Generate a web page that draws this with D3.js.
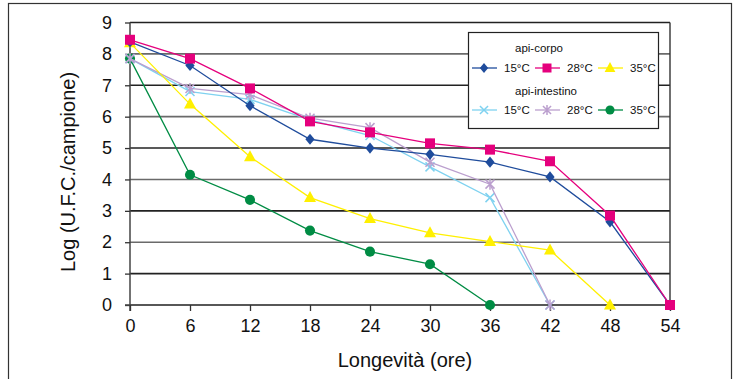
<!DOCTYPE html>
<html><head><meta charset="utf-8">
<script src="https://cdn.jsdelivr.net/npm/d3@7"></script>
<style>body{margin:0;background:#fff}svg{display:block;font-family:"Liberation Sans",Arial,sans-serif}</style>
</head><body><svg id="c" width="737" height="379"></svg>
<script>
const hours = [0, 6, 12, 18, 24, 30, 36, 42, 48, 54];
const yTicks = [0,1,2,3,4,5,6,7,8,9];
const corpo15 = [8.38, 7.63, 6.35, 5.28, 5.0, 4.8, 4.55, 4.08, 2.65, 0];
const corpo28 = [8.45, 7.85, 6.9, 5.85, 5.5, 5.15, 4.95, 4.58, 2.85, 0];
const corpo35 = [8.35, 6.4, 4.72, 3.42, 2.75, 2.3, 2.02, 1.75, 0];
const intest15 = [7.85, 6.8, 6.55, 5.9, 5.4, 4.4, 3.42, 0];
const intest28 = [7.85, 6.9, 6.7, 5.95, 5.65, 4.55, 3.85, 0];
const intest35 = [7.85, 4.15, 3.35, 2.37, 1.7, 1.3, 0];
const seriesNames = ["15°C","28°C","35°C","15°C","28°C","35°C"];
const groupNames = ["api-corpo","api-intestino"];

const series = [
  {name:seriesNames[0], vals:corpo15, color:"#1f4c9c", kind:"diamond"},
  {name:seriesNames[1], vals:corpo28, color:"#e5007d", kind:"square"},
  {name:seriesNames[2], vals:corpo35, color:"#fff000", kind:"triangle"},
  {name:seriesNames[3], vals:intest15, color:"#7fd2f0", kind:"x"},
  {name:seriesNames[4], vals:intest28, color:"#bb9fce", kind:"star"},
  {name:seriesNames[5], vals:intest35, color:"#008c44", kind:"circle"}
];

const svg = d3.select("#c");
svg.append("rect").attr("x",8.5).attr("y",3.5).attr("width",723).attr("height",400)
  .attr("fill","none").attr("stroke","#333").attr("stroke-width",1.2);

const x = d3.scaleLinear().domain([0,54]).range([130,670]);
const y = d3.scaleLinear().domain([0,9]).range([305,22.5]);

svg.append("g").selectAll("line").data(yTicks).join("line")
  .attr("x1",130).attr("x2",670).attr("y1",d=>y(d)).attr("y2",d=>y(d))
  .attr("stroke",(d,i)=> i%2? "#222":"#6a6a6a").attr("stroke-width",1.6);
svg.append("line").attr("x1",670).attr("x2",670).attr("y1",y(9)).attr("y2",y(0))
  .attr("stroke","#333").attr("stroke-width",1.4);

const yAxis = svg.append("g").attr("transform","translate(130,0)")
  .call(d3.axisLeft(y).tickValues(yTicks).tickSize(5).tickPadding(13).tickFormat(d3.format("d")));
const xAxis = svg.append("g").attr("transform",`translate(0,${y(0)})`)
  .call(d3.axisBottom(x).tickValues(hours).tickSize(6).tickPadding(8).tickFormat(d3.format("d")));
[yAxis,xAxis].forEach(a=>{
  a.select(".domain").attr("stroke","#444").attr("stroke-width",1.5);
  a.selectAll(".tick line").attr("stroke","#333").attr("stroke-width",1.3);
  a.selectAll("text").attr("font-size",18).attr("fill","#111").attr("font-family","Liberation Sans, Arial, sans-serif");
});
yAxis.select(".domain").attr("d",`M0,${y(0)+6}V${y(9)}`);
xAxis.select(".domain").attr("d",`M${130-5},0H670`);

svg.append("text").attr("transform",`translate(75,172) rotate(-90)`).attr("text-anchor","middle")
  .attr("font-size",20).attr("fill","#111").text("Log (U.F.C./campione)");
svg.append("text").attr("x",405).attr("y",367).attr("text-anchor","middle")
  .attr("font-size",20).attr("fill","#111").text("Longevità (ore)");

function drawMarker(g, s, cx, cy, sc){
  sc = sc||1;
  let p;
  if(s.kind==="x"){
    const r=4.5*sc;
    g.append("path").attr("d",`M${cx-r},${cy-r}L${cx+r},${cy+r}M${cx-r},${cy+r}L${cx+r},${cy-r}`)
      .attr("stroke",s.color).attr("stroke-width",1.5).attr("fill","none");
    return;
  } else if(s.kind==="star"){
    const r=4.5*sc;
    g.append("path").attr("d",`M${cx-r},${cy-r}L${cx+r},${cy+r}M${cx-r},${cy+r}L${cx+r},${cy-r}M${cx},${cy-r-1}L${cx},${cy+r+1}`)
      .attr("stroke",s.color).attr("stroke-width",1.5).attr("fill","none");
    return;
  } else if(s.kind==="diamond"){
    const w=4.6*sc,h=5.6*sc;
    p=`M${cx},${cy-h}L${cx+w},${cy}L${cx},${cy+h}L${cx-w},${cy}Z`;
  } else if(s.kind==="square"){
    const r=5*sc;
    p=`M${cx-r},${cy-r}h${2*r}v${2*r}h${-2*r}Z`;
  } else if(s.kind==="triangle"){
    const w=6*sc,h=11*sc;
    p=`M${cx},${cy-h*0.6}L${cx+w},${cy+h*0.4}L${cx-w},${cy+h*0.4}Z`;
  } else {
    p=d3.symbol().type(d3.symbolCircle).size(80*sc*sc)();
    g.append("path").attr("d",p).attr("transform",`translate(${cx},${cy})`).attr("fill",s.color);
    return;
  }
  g.append("path").attr("d",p).attr("fill",s.color);
}

const line = d3.line().x((d,i)=>x(hours[i])).y(d=>y(d));
const order = [5,3,4,2,0,1];
order.forEach(k=>{
  const s = series[k];
  const g = svg.append("g");
  g.append("path").attr("d",line(s.vals)).attr("fill","none").attr("stroke",s.color).attr("stroke-width",1.3);
  s.vals.forEach((v,i)=>drawMarker(g,s,x(hours[i]),y(v)));
});

const lg = svg.append("g");
lg.append("rect").attr("x",468.5).attr("y",32.5).attr("width",190).attr("height",96)
  .attr("fill","#fff").attr("stroke","#222").attr("stroke-width",1.2);
const lx0 = [484,547,610];
[0,1].forEach(gi=>{
  const ty = gi===0?52:95, ry = gi===0?68:110;
  lg.append("text").attr("x",gi===0?539:546).attr("y",ty).attr("text-anchor","middle").attr("font-size",11.5).attr("fill","#111").text(groupNames[gi]);
  [0,1,2].forEach(j=>{
    const s = series[gi*3+j];
    const cx = lx0[j];
    lg.append("line").attr("x1",cx-12).attr("x2",cx+13).attr("y1",ry).attr("y2",ry).attr("stroke",s.color).attr("stroke-width",1.3);
    drawMarker(lg,s,cx,ry,0.9);
    lg.append("text").attr("x",cx+20).attr("y",ry+4).attr("font-size",11.5).attr("fill","#111").text(s.name);
  });
});
</script></body></html>
